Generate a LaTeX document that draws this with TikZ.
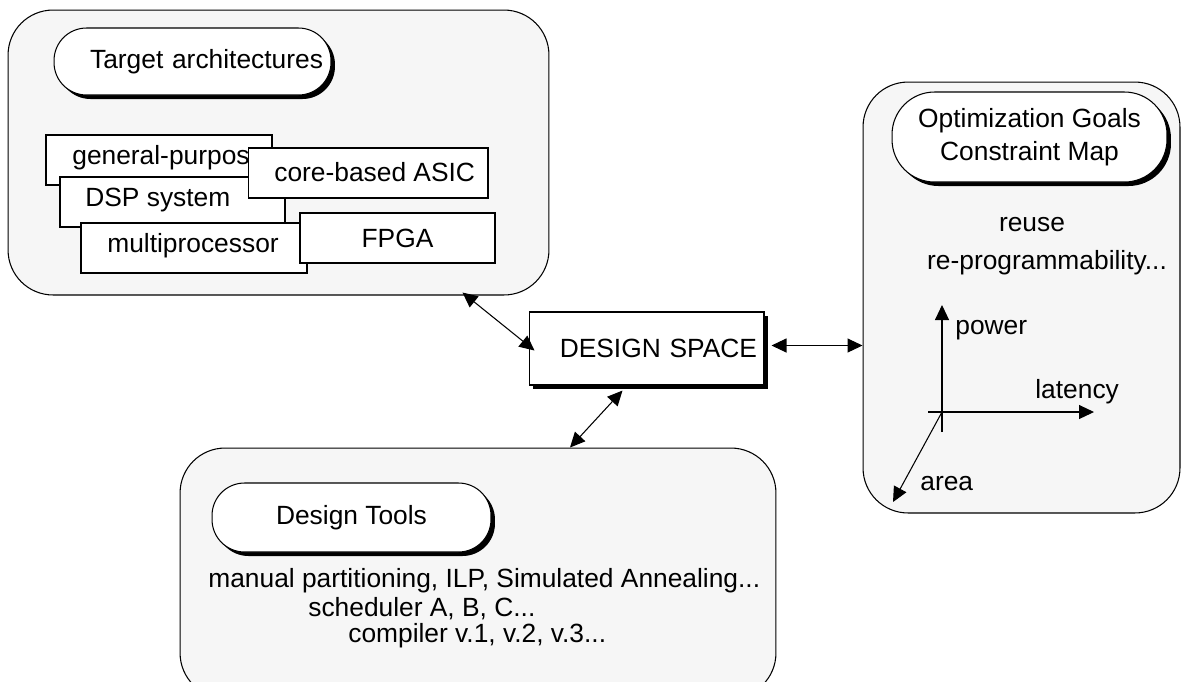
\documentclass[tikz,border=0pt]{standalone}
\usepackage{fontspec}
\setmainfont{Liberation Sans}
\usepackage{tikz}
\usetikzlibrary{arrows.meta, calc, shadows}
\definecolor{panelgray}{RGB}{246,246,246}

\begin{document}
\begin{tikzpicture}[x=0.02cm, y=-0.02cm,
  font=\fontsize{15}{19}\selectfont,
  panel/.style={draw, fill=panelgray, rounded corners=0.9cm, line width=0.6pt},
  tag/.style={draw, fill=white, rounded corners=0.65cm, line width=0.6pt,
    drop shadow={shadow xshift=0.08cm, shadow yshift=-0.08cm, fill=black, opacity=1}},
  archbox/.style={draw, fill=white, minimum height=1.0cm, line width=0.6pt},
  spacebox/.style={draw, fill=white, minimum height=1.46cm, text width=4.42cm, inner xsep=0.14cm, align=right, line width=0.6pt,
    drop shadow={shadow xshift=0.08cm, shadow yshift=-0.08cm, fill=black, opacity=1}},
  lbl/.style={anchor=west, inner sep=0pt},
  link/.style={{Triangle[length=0.3cm, width=0.28cm]}-{Triangle[length=0.3cm, width=0.28cm]}, line width=0.6pt},
  axis/.style={-{Triangle[length=0.3cm, width=0.28cm]}, line width=0.6pt},
]
  \clip (0,0) rectangle (1182,681);

  % Panels
  \node[panel, minimum width=10.82cm, minimum height=5.7cm] (arch) at (278.5,152.5) {};
  \node[panel, minimum width=6.34cm, minimum height=8.62cm] (goals) at (1021.5,297.5) {};
  \node[panel, minimum width=11.92cm, minimum height=5.0cm] (tools) at (478,573) {};

  % Panel titles
  \node[tag, minimum width=5.54cm, minimum height=1.34cm, text width=5.22cm, inner xsep=0.16cm, align=right] (archtag) at (192.5,61.5) {Target architectures};
  \node[tag, minimum width=5.5cm, minimum height=1.8cm, rounded corners=0.85cm, align=center] (goalstag) at (1029.5,137) {Optimization Goals\\Constraint Map};
  \node[tag, minimum width=5.58cm, minimum height=1.38cm] (toolstag) at (351.5,517.5) {Design Tools};

  % Architecture boxes (stacked, later ones on top)
  \node[archbox, minimum width=4.52cm] (gp) at (159,160) {};
  \node[lbl] (gplbl) at (72,158) {general-purpose};
  \node[archbox, minimum width=4.5cm] (dsp) at (172.5,202) {};
  \node[lbl] (dsplbl) at (85,200) {DSP system};
  \node[archbox, minimum width=4.52cm] (mp) at (194,248) {};
  \node[lbl] (mplbl) at (107,246) {multiprocessor};
  \node[archbox, minimum width=4.8cm] (asic) at (368,173) {};
  \node[lbl] (asiclbl) at (274,172) {core-based ASIC};
  \node[archbox, minimum width=3.9cm] (fpga) at (397.5,238) {FPGA};

  % Design space
  \node[spacebox] (space) at (646.5,348.5) {DESIGN SPACE};

  % Goals
  \node (reuse) at (1032,225) {reuse};
  \node (reprog) at (1047,263) {re-programmability...};

  % Axes
  \coordinate (orig) at (942,412);
  \coordinate (ptop) at (942,305);
  \coordinate (pbot) at (942,432);
  \coordinate (lleft) at (928,412);
  \coordinate (lright) at (1094,412);
  \coordinate (atip) at (893,502);
  \draw[axis] (pbot) -- (ptop);
  \draw[axis] (lleft) -- (lright);
  \draw[axis] (orig) -- (atip);
  \node[lbl] (powerlbl) at (955,330) {power};
  \node[lbl] (latlbl) at (1035,392) {latency};
  \node[lbl] (arealbl) at (920,484) {area};

  % Tools
  \node[lbl] (tool1) at (208,581) {manual partitioning, ILP, Simulated Annealing...};
  \node[lbl] (tool2) at (308,609) {scheduler A, B, C...};
  \node[lbl] (tool3) at (348,636) {compiler v.1, v.2, v.3...};

  % Links to the design space
  \draw[link] ($(arch.south east)+(-87,-3)$) -- ($(space.west)+(6,2)$);
  \draw[link] ($(space.east)+(7,-3)$) -- ($(space.east -| goals.west)+(0,-3)$);
  \draw[link] ($(space.south)+(-24,5)$) -- ($(tools.north)+(92,0)$);
\end{tikzpicture}
\end{document}
